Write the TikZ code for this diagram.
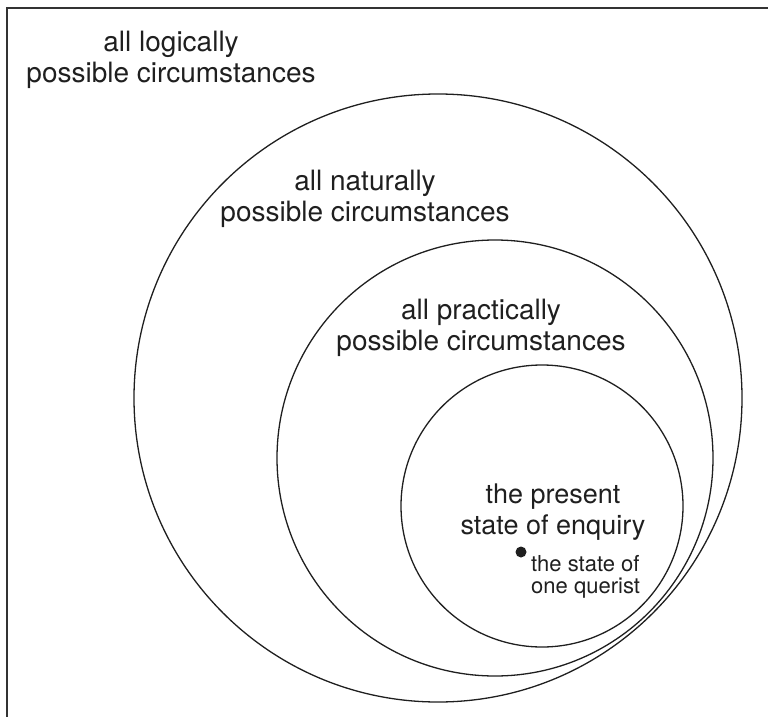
\documentclass[tikz,border=0pt]{standalone}
\usepackage{fontspec}
\setmainfont{TeX Gyre Heros}
\begin{document}
\begin{tikzpicture}[x=1pt,y=-1pt,
  ring/.style={draw=black!88,line width=1.3pt,circle,inner sep=0pt},
  biglabel/.style={align=center,font=\fontsize{28}{30.5}\selectfont,text=black!88,inner sep=0pt},
  midlabel/.style={align=center,font=\fontsize{27}{30.5}\selectfont,text=black!88,inner sep=0pt},
  smalllabel/.style={align=left,font=\fontsize{22}{22}\selectfont,text=black!88,inner sep=0pt}]
\useasboundingbox (0,0) rectangle (768,717);
\coordinate (fbl) at (6.5,717);
\coordinate (ftl) at (6.5,8.5);
\coordinate (ftr) at (768,8.5);
\draw[line width=2pt,draw=black!80] (fbl) -- (ftl) -- (ftr);
\node[ring,minimum size=608pt] (logical) at (438,398) {};
\node[ring,minimum size=436pt] (natural) at (495,458) {};
\node[ring,minimum size=282pt] (practical) at (542,506) {};
\node[biglabel] (tlog) at (171,60) {all logically\\possible circumstances};
\node[biglabel] (tnat) at (365,199) {all naturally\\possible circumstances};
\node[biglabel] (tpra) at (481,328) {all practically\\possible circumstances};
\node[midlabel] (tpre) at (553,512) {the present\\state of enquiry};
\node[circle,fill=black!88,inner sep=0pt,minimum size=11pt] (dot) at (521,552) {};
\node[smalllabel,anchor=north west] (tque) at (531,555) {the state of\\one querist};
\end{tikzpicture}
\end{document}
